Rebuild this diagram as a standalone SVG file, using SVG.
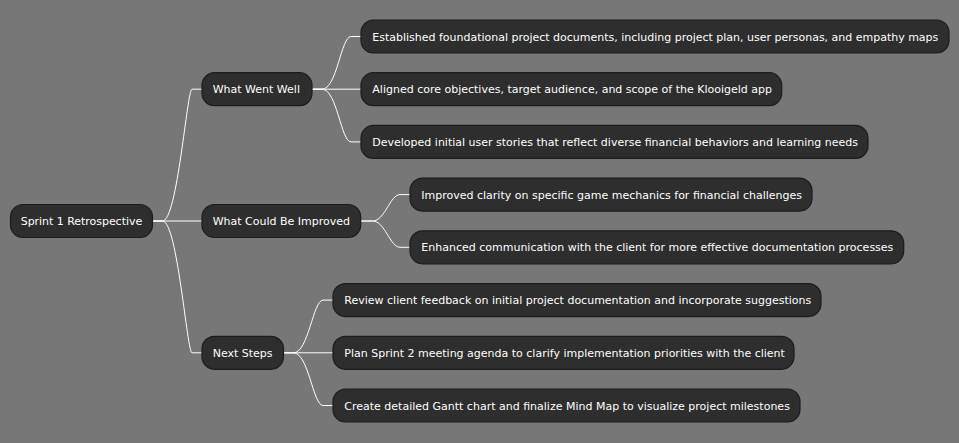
<svg xmlns="http://www.w3.org/2000/svg" width="959" height="443" viewBox="0 0 959 443">
<style>
.n rect{fill:#2e2e2e;stroke:#1c1c1c;stroke-width:1.2}
.n text{font-family:"DejaVu Sans",Verdana,sans-serif;font-size:11px;fill:#ffffff}
.c path{fill:none;stroke:#ffffff;stroke-width:1}
</style>
<rect x="0" y="0" width="959" height="443" fill="#777777"/>
<g class="c" id="connectors">
<path d="M152.5,221 L162.5,221 C177.5,221 187,89.2 192,89.2 L202,89.2"/>
<path d="M152.5,221 L202,221"/>
<path d="M152.5,221 L162.5,221 C177.5,221 187,352.8 192,352.8 L202,352.8"/>
<path d="M312,89.2 L322,89.2 C337,89.2 341,36.5 351,36.5 L361,36.5"/>
<path d="M312,89.2 L361,89.2"/>
<path d="M312,89.2 L322,89.2 C337,89.2 341,141.9 351,141.9 L361,141.9"/>
<path d="M360.7,221 L372.5,221 C385,221 390,194.6 400,194.6 L410,194.6"/>
<path d="M360.7,221 L372.5,221 C385,221 390,247.3 400,247.3 L410,247.3"/>
<path d="M283.5,352.8 L293.5,352.8 C308.5,352.8 313,300.1 323,300.1 L333,300.1"/>
<path d="M283.5,352.8 L333,352.8"/>
<path d="M283.5,352.8 L293.5,352.8 C308.5,352.8 313,405.5 323,405.5 L333,405.5"/>
</g>
<g class="n" id="root"><rect x="10.5" y="204.5" width="142" height="33" rx="12.5"/><text x="20.7" y="225" textLength="121.5" lengthAdjust="spacing">Sprint 1 Retrospective</text></g>
<g class="n" id="www"><rect x="202" y="72.7" width="110" height="33" rx="12.5"/><text x="212.7" y="93.2">What Went Well</text></g>
<g class="n" id="improve"><rect x="202" y="204.5" width="158.7" height="33" rx="12.5"/><text x="212.7" y="225">What Could Be Improved</text></g>
<g class="n" id="next"><rect x="202" y="336.3" width="81.5" height="33" rx="12.5"/><text x="212.7" y="356.8">Next Steps</text></g>
<g class="n" id="www1"><rect x="361" y="20" width="588" height="33" rx="12.5"/><text x="372.3" y="40.5" textLength="566" lengthAdjust="spacing">Established foundational project documents, including project plan, user personas, and empathy maps</text></g>
<g class="n" id="www2"><rect x="361" y="72.7" width="420.7" height="33" rx="12.5"/><text x="372.3" y="93.2">Aligned core objectives, target audience, and scope of the Klooigeld app</text></g>
<g class="n" id="www3"><rect x="361" y="125.4" width="507" height="33" rx="12.5"/><text x="372.3" y="145.9">Developed initial user stories that reflect diverse financial behaviors and learning needs</text></g>
<g class="n" id="imp1"><rect x="410" y="178.1" width="402" height="33" rx="12.5"/><text x="421.3" y="198.6">Improved clarity on specific game mechanics for financial challenges</text></g>
<g class="n" id="imp2"><rect x="410" y="230.8" width="493.7" height="33" rx="12.5"/><text x="421.3" y="251.3">Enhanced communication with the client for more effective documentation processes</text></g>
<g class="n" id="next1"><rect x="333" y="283.6" width="488" height="33" rx="12.5"/><text x="344.3" y="304.1">Review client feedback on initial project documentation and incorporate suggestions</text></g>
<g class="n" id="next2"><rect x="333" y="336.3" width="461" height="33" rx="12.5"/><text x="344.3" y="356.8">Plan Sprint 2 meeting agenda to clarify implementation priorities with the client</text></g>
<g class="n" id="next3"><rect x="333" y="389" width="467" height="33" rx="12.5"/><text x="344.3" y="409.5">Create detailed Gantt chart and finalize Mind Map to visualize project milestones</text></g>
</svg>
